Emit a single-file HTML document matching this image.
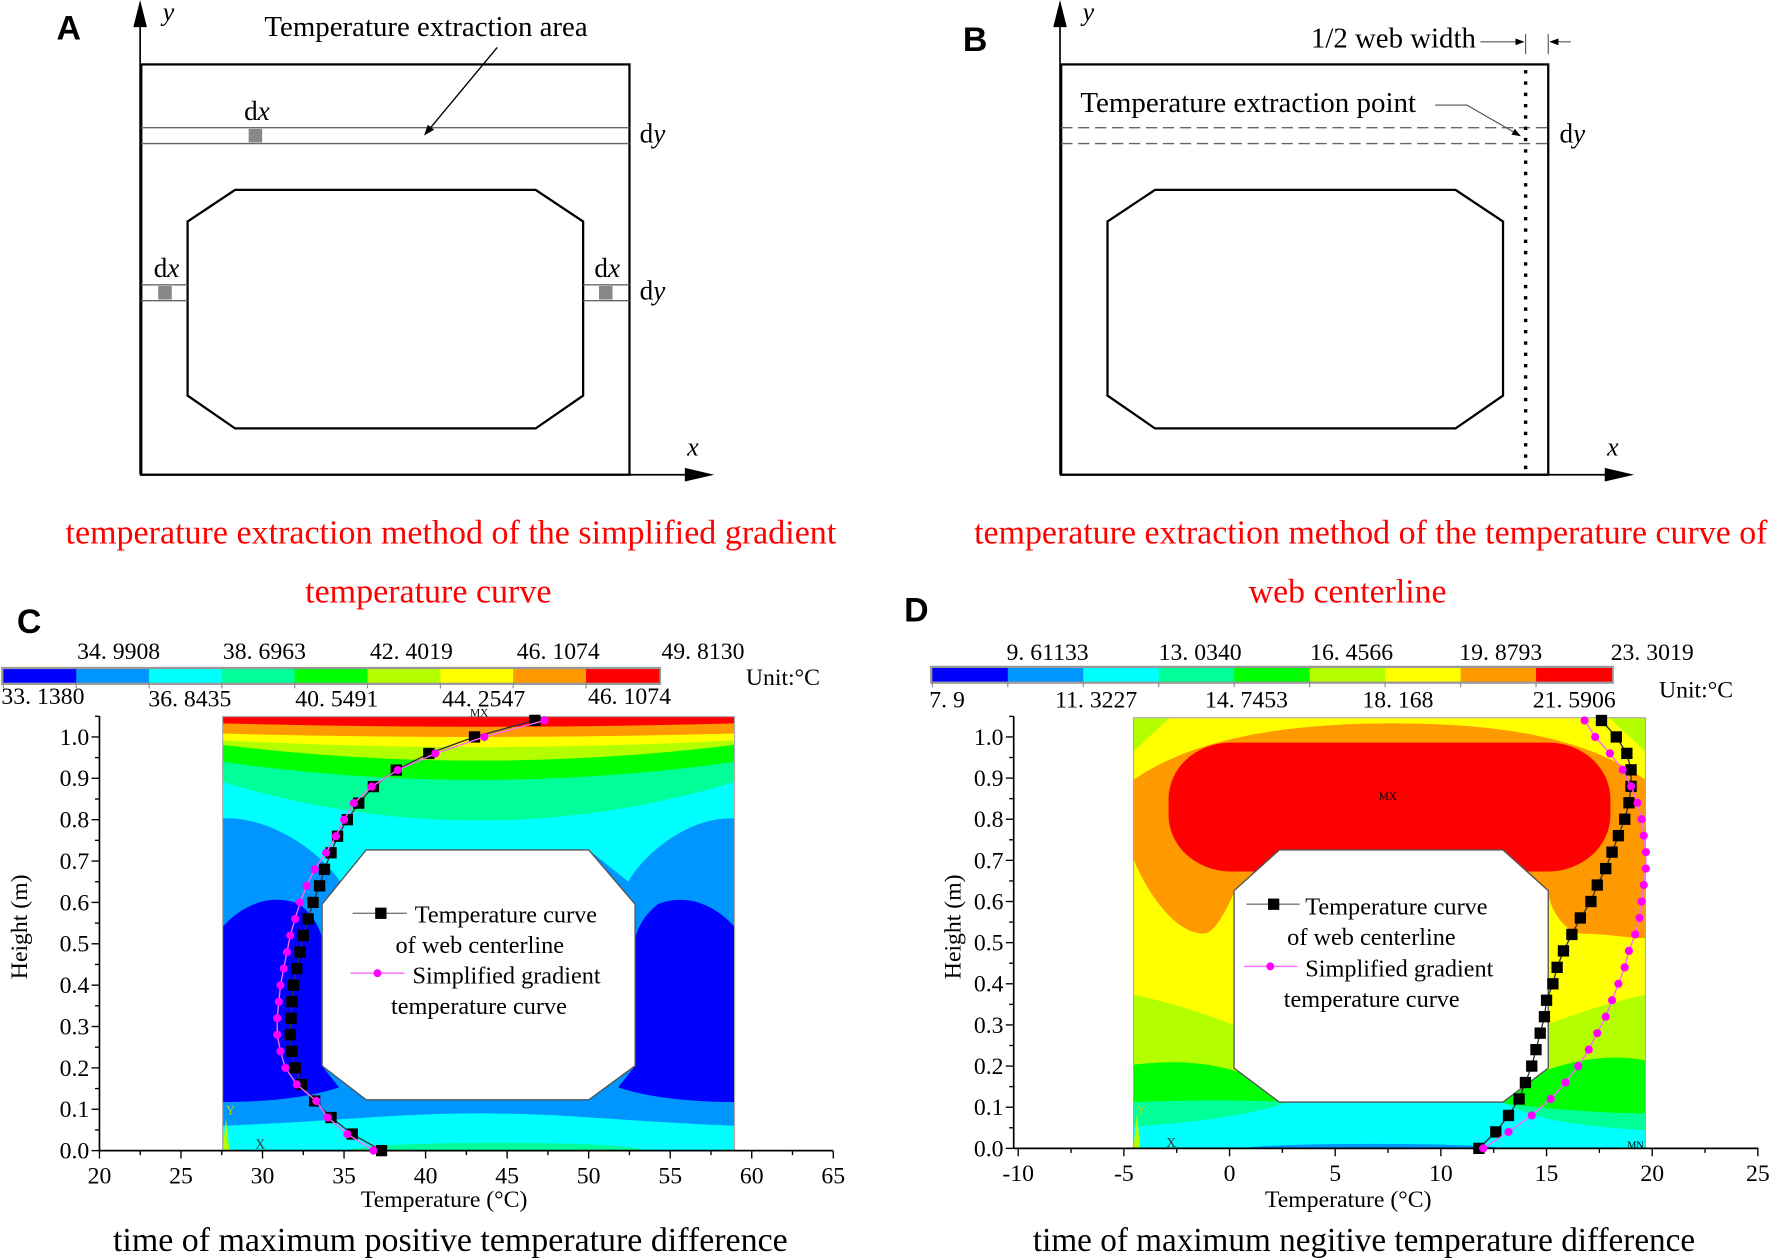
<!DOCTYPE html>
<html><head><meta charset="utf-8"><style>
html,body{margin:0;padding:0;background:#fff;}
svg{display:block;}
text{font-family:"Liberation Serif",serif;}
.sans{font-family:"Liberation Sans",sans-serif;font-weight:bold;}
</style></head><body>
<svg id="s" width="1772" height="1258" viewBox="0 0 1568 1113" preserveAspectRatio="none" xmlns="http://www.w3.org/2000/svg">
<defs>
<marker id="ah2" markerWidth="8" markerHeight="6" refX="7" refY="3" orient="auto"><path d="M0,0 L8,3 L0,6 Z" fill="#000"/></marker>
</defs>
<rect width="1568" height="1113" fill="#fff"/>

<!-- Panel A -->
<text x="50" y="35" class="sans" font-size="30">A</text>
<line x1="124" y1="420" x2="124" y2="22" stroke="#000" stroke-width="1.5"/>
<path d="M118,24 L124,0 L130,24 Z" fill="#000"/>
<line x1="124" y1="420" x2="608" y2="420" stroke="#000" stroke-width="1.5"/>
<path d="M606,414 L632,420 L606,426 Z" fill="#000"/>
<text x="144" y="18" font-size="23" font-style="italic">y</text>
<text x="608" y="403" font-size="23" font-style="italic">x</text>
<rect x="125" y="57" width="432" height="363" fill="none" stroke="#000" stroke-width="2"/>
<line x1="125" y1="113" x2="557" y2="113" stroke="#666" stroke-width="1.2"/>
<line x1="125" y1="127" x2="557" y2="127" stroke="#666" stroke-width="1.2"/>
<rect x="220" y="114" width="12" height="12" fill="#888"/>
<polygon points="208,168 474,168 516,196 516,350 474,379 208,379 166,350 166,196" fill="none" stroke="#000" stroke-width="2"/>
<line x1="125" y1="252" x2="166" y2="252" stroke="#666" stroke-width="1.2"/>
<line x1="125" y1="266" x2="166" y2="266" stroke="#666" stroke-width="1.2"/>
<line x1="516" y1="252" x2="557" y2="252" stroke="#666" stroke-width="1.2"/>
<line x1="516" y1="266" x2="557" y2="266" stroke="#666" stroke-width="1.2"/>
<rect x="140" y="253" width="12" height="12" fill="#888"/>
<rect x="530" y="253" width="12" height="12" fill="#888"/>
<text x="234" y="32" font-size="25" textLength="286" lengthAdjust="spacingAndGlyphs">Temperature extraction area</text>
<line x1="440" y1="42" x2="376" y2="119" stroke="#000" stroke-width="1.2" marker-end="url(#ah2)"/>
<text x="216" y="106" font-size="24">d<tspan font-style="italic">x</tspan></text>
<text x="566" y="126" font-size="24">d<tspan font-style="italic">y</tspan></text>
<text x="136" y="245" font-size="24">d<tspan font-style="italic">x</tspan></text>
<text x="526" y="245" font-size="24">d<tspan font-style="italic">x</tspan></text>
<text x="566" y="265" font-size="24">d<tspan font-style="italic">y</tspan></text>

<!-- Panel B -->
<text x="852" y="45" class="sans" font-size="30">B</text>
<line x1="938" y1="420" x2="938" y2="22" stroke="#000" stroke-width="1.5"/>
<path d="M932,24 L938,0 L944,24 Z" fill="#000"/>
<line x1="938" y1="420" x2="1422" y2="420" stroke="#000" stroke-width="1.5"/>
<path d="M1420,414 L1446,420 L1420,426 Z" fill="#000"/>
<text x="958" y="18" font-size="23" font-style="italic">y</text>
<text x="1422" y="403" font-size="23" font-style="italic">x</text>
<rect x="939" y="57" width="431" height="363" fill="none" stroke="#000" stroke-width="2"/>
<line x1="939" y1="113" x2="1370" y2="113" stroke="#666" stroke-width="1.2" stroke-dasharray="10,5"/>
<line x1="939" y1="127" x2="1370" y2="127" stroke="#666" stroke-width="1.2" stroke-dasharray="10,5"/>
<polygon points="1022,168 1288,168 1330,196 1330,350 1288,379 1022,379 980,350 980,196" fill="none" stroke="#000" stroke-width="2"/>
<line x1="1350" y1="62" x2="1350" y2="415" stroke="#000" stroke-width="3" stroke-dasharray="3,7"/>
<text x="1160" y="42" font-size="25" textLength="146" lengthAdjust="spacingAndGlyphs">1/2 web width</text>
<line x1="1310" y1="37" x2="1348" y2="37" stroke="#555" stroke-width="1" marker-end="url(#ah2)"/>
<line x1="1390" y1="37" x2="1372" y2="37" stroke="#555" stroke-width="1" marker-end="url(#ah2)"/>
<line x1="1350" y1="30" x2="1350" y2="48" stroke="#555" stroke-width="1"/>
<line x1="1370" y1="30" x2="1370" y2="48" stroke="#555" stroke-width="1"/>
<text x="956" y="99" font-size="25" textLength="297" lengthAdjust="spacingAndGlyphs">Temperature extraction point</text>
<path d="M1270,93 L1298,93 L1345,120" fill="none" stroke="#555" stroke-width="1" marker-end="url(#ah2)"/>
<text x="1380" y="126" font-size="24">d<tspan font-style="italic">y</tspan></text>

<!-- red captions -->
<g fill="#ff0000" font-size="30">
<text x="58" y="481" textLength="682" lengthAdjust="spacingAndGlyphs">temperature extraction method of the simplified gradient</text>
<text x="270" y="533" textLength="218" lengthAdjust="spacingAndGlyphs">temperature curve</text>
<text x="862" y="481" textLength="702" lengthAdjust="spacingAndGlyphs">temperature extraction method of the temperature curve of</text>
<text x="1105" y="533" textLength="175" lengthAdjust="spacingAndGlyphs">web centerline</text>
</g>

<!-- Panel C -->
<text x="15" y="560" class="sans" font-size="30">C</text>
<g id="cbC"></g>
<g font-size="21" text-anchor="middle">
<text x="105" y="583">34. 9908</text><text x="234" y="583">38. 6963</text><text x="364" y="583">42. 4019</text><text x="494" y="583">46. 1074</text><text x="622" y="583">49. 8130</text>
<text x="38" y="623">33. 1380</text><text x="168" y="625">36. 8435</text><text x="298" y="625">40. 5491</text><text x="428" y="625">44. 2547</text><text x="557" y="623">46. 1074</text>
</g>
<text x="660" y="606" font-size="21">Unit:°C</text>

<svg x="197" y="634" width="453" height="384" viewBox="197 634 453 384" overflow="hidden">
<rect x="197" y="634" width="453" height="384" fill="#0096ff"/>
<path d="M197,820 C215,800 240,790 265,800 C275,808 282,818 285,830 L285,943 L300,962 C270,972 230,975 197,975 Z" fill="#0000ff"/>
<path d="M650,820 C632,800 607,790 582,800 C572,808 565,818 562,830 L562,943 L547,962 C577,972 617,975 650,975 Z" fill="#0000ff"/>
<path d="M197,634 H650 V724 C610,722 570,755 556,780 L521,752 L324,752 L301,780 C285,755 240,722 197,724 Z" fill="#00ffff"/>
<path d="M197,996 C300,992 350,985 423,985 C500,985 550,992 650,996 V1018 H197 Z" fill="#00ffff"/>
<ellipse cx="440" cy="1018" rx="130" ry="7" fill="#00ff99"/>
<path d="M197,634 H650 V692 Q423,760 197,692 Z" fill="#00ff99"/>
<path d="M197,634 H650 V674 Q423,706 197,674 Z" fill="#00ff00"/>
<path d="M197,634 H650 V659 Q423,687 197,659 Z" fill="#b3ff00"/>
<path d="M197,634 H650 V655 Q423,667 197,655 Z" fill="#ffff00"/>
<path d="M197,634 H650 V649 Q423,655 197,649 Z" fill="#ff9900"/>
<path d="M197,634 H650 V640 Q423,646 197,640 Z" fill="#ff0000"/>
<polygon points="197,1018 200,990 203,1018" fill="#b3ff00"/>
</svg>
<polygon points="324,752 521,752 562,800 562,943 521,973 324,973 285,943 285,800" fill="#fff" stroke="#555" stroke-width="1.2"/>
<rect x="197" y="634" width="453" height="384" fill="none" stroke="#aaa" stroke-width="1"/>
<text x="416" y="634" font-size="10" font-family="Liberation Mono">MX</text>
<text x="200" y="986" font-size="11" fill="#cccc00">Y</text>
<text x="226" y="1016" font-size="12" fill="#333">X</text>
<g id="axC"></g>
<text transform="translate(24,820) rotate(-90)" font-size="21" text-anchor="middle">Height (m)</text>
<text x="393" y="1068" font-size="21" text-anchor="middle">Temperature (°C)</text>
<g id="serC"></g>
<!-- legend C -->
<line x1="312" y1="808" x2="360" y2="808" stroke="#777" stroke-width="1.2"/>
<rect x="332" y="803" width="10" height="10" fill="#000"/>
<text x="367" y="816" font-size="21.5">Temperature curve</text>
<text x="350" y="843" font-size="21.5">of web centerline</text>
<line x1="310" y1="861" x2="358" y2="861" stroke="#ff66ff" stroke-width="1.2"/>
<circle cx="334" cy="861" r="3.5" fill="#ff00ff"/>
<text x="365" y="870" font-size="21.5">Simplified gradient</text>
<text x="346" y="897" font-size="21.5">temperature curve</text>
<text x="100" y="1107" font-size="30" textLength="597" lengthAdjust="spacingAndGlyphs">time of maximum positive temperature difference</text>

<!-- Panel D -->
<text x="800" y="550" class="sans" font-size="30">D</text>
<g id="cbD"></g>
<g font-size="21" text-anchor="middle">
<text x="927" y="584">9. 61133</text><text x="1062" y="584">13. 0340</text><text x="1196" y="584">16. 4566</text><text x="1328" y="584">19. 8793</text><text x="1462" y="584">23. 3019</text>
<text x="838" y="626">7. 9</text><text x="970" y="626">11. 3227</text><text x="1103" y="626">14. 7453</text><text x="1237" y="626">18. 168</text><text x="1393" y="626">21. 5906</text>
</g>
<text x="1468" y="617" font-size="21">Unit:°C</text>

<svg x="1003" y="635" width="453" height="381" viewBox="1003 635 453 381" overflow="hidden">
<rect x="1003" y="635" width="453" height="381" fill="#ffff00"/>
<path d="M1003,1016 V880 Q1050,890 1100,910 L1360,910 Q1410,890 1456,880 V1016 Z" fill="#b3ff00"/>
<path d="M1003,1016 V942 Q1060,935 1100,950 L1360,950 Q1410,930 1456,938 V1016 Z" fill="#00ff00"/>
<path d="M1003,1016 V975 Q1080,972 1140,975 L1320,975 Q1400,985 1456,985 V1016 Z" fill="#00ff99"/>
<path d="M1003,1016 V997 Q1100,990 1140,975 L1330,975 Q1360,995 1456,1000 V1016 Z" fill="#00ffff"/>
<ellipse cx="1215" cy="1017" rx="120" ry="5" fill="#0096ff"/>
<polygon points="1003,635 1035,635 1003,665" fill="#b3ff00"/>
<polygon points="1456,635 1424,635 1456,665" fill="#b3ff00"/>
<path d="M1003,690 C1060,650 1150,640 1230,640 C1320,640 1400,650 1456,690 V830 C1440,830 1420,826 1400,826 C1385,826 1372,805 1370,790 L1092,790 C1085,805 1075,826 1065,826 C1040,826 1015,790 1003,760 Z" fill="#ff9900"/>
<rect x="1034" y="657" width="391" height="114" rx="55" ry="50" fill="#ff0000"/>
<polygon points="1003,1016 1006,985 1009,1016" fill="#b3ff00"/>
</svg>
<polygon points="1132,752 1330,752 1370,788 1370,945 1330,975 1132,975 1092,945 1092,788" fill="#fff" stroke="#555" stroke-width="1.2"/>
<rect x="1003" y="635" width="453" height="381" fill="none" stroke="#aaa" stroke-width="1"/>
<text x="1220" y="708" font-size="10" font-family="Liberation Mono">MX</text>
<text x="1440" y="1016" font-size="9" font-family="Liberation Mono">MN</text>
<text x="1006" y="986" font-size="11" fill="#cccc00">Y</text>
<text x="1032" y="1015" font-size="12" fill="#333">X</text>
<g id="axD"></g>
<text transform="translate(850,820) rotate(-90)" font-size="21" text-anchor="middle">Height (m)</text>
<text x="1193" y="1068" font-size="21" text-anchor="middle">Temperature (°C)</text>
<g id="serD"></g>
<line x1="1103" y1="800" x2="1150" y2="800" stroke="#777" stroke-width="1.2"/>
<rect x="1122" y="795" width="10" height="10" fill="#000"/>
<text x="1155" y="809" font-size="21.5">Temperature curve</text>
<text x="1139" y="836" font-size="21.5">of web centerline</text>
<line x1="1101" y1="855" x2="1148" y2="855" stroke="#ff66ff" stroke-width="1.2"/>
<circle cx="1124" cy="855" r="3.5" fill="#ff00ff"/>
<text x="1155" y="864" font-size="21.5">Simplified gradient</text>
<text x="1136" y="891" font-size="21.5">temperature curve</text>
<text x="914" y="1107" font-size="30" textLength="586" lengthAdjust="spacingAndGlyphs">time of maximum negitive temperature difference</text>
</svg>
<script>
var NS="http://www.w3.org/2000/svg";
function el(p,t,a){var e=document.createElementNS(NS,t);for(var k in a)e.setAttribute(k,a[k]);document.getElementById(p).appendChild(e);return e;}
var cols=["#0000ff","#0096ff","#00ffff","#00ff99","#00ff00","#b3ff00","#ffff00","#ff9900","#ff0000"];
function cbar(id,x0,x1,y,h){el(id,"rect",{x:x0-2,y:y-2,width:x1-x0+4,height:h+4,fill:"#999"});var w=(x1-x0)/9;for(var i=0;i<9;i++){el(id,"rect",{x:x0+i*w,y:y,width:w+0.5,height:h,fill:cols[i]});el(id,"line",{x1:x0+i*w,y1:y+h,x2:x0+i*w,y2:y+h+5,stroke:"#888","stroke-width":1});}}
cbar("cbC",3,583,592,12);cbar("cbD",825,1426,591,12);
function axes(id,ax,y0,y1,ppu,xmin,xmax,x0px,xppu,xend,step){
 el(id,"line",{x1:ax,y1:y0,x2:ax,y2:y0-1.05*ppu*10,stroke:"#000","stroke-width":1.5});
 for(var i=0;i<=21;i++){var y=y0-i*ppu*0.5;var maj=i%2==0;el(id,"line",{x1:ax-(maj?7:4),y1:y,x2:ax,y2:y,stroke:"#000","stroke-width":1.2});
  if(maj){var t=el(id,"text",{x:ax-9,y:y+7,"font-size":21,"text-anchor":"end"});t.textContent=(i/20).toFixed(1);}}
 el(id,"line",{x1:ax,y1:y0,x2:xend,y2:y0,stroke:"#000","stroke-width":1.5});
 for(var v=xmin;v<=xmax+0.01;v+=step/2){var x=x0px+(v-xmin)*xppu;var maj=Math.abs(v/step-Math.round(v/step))<0.01;
  el(id,"line",{x1:x,y1:y0,x2:x,y2:y0+(maj?7:4),stroke:"#000","stroke-width":1.2});
  if(maj){var t=el(id,"text",{x:x,y:y0+29,"font-size":21,"text-anchor":"middle"});t.textContent=String(Math.round(v));}}
}
axes("axC",88,1018,0,36.6,20,65,88,14.43,737,5);
axes("axD",897,1016,0,36.4,-10,25,901,18.7,1556,5);
function series(id,T,mx,sx,my,sy,sq,col,lc){var pts=[];for(var i=0;i<T.length;i++){pts.push([mx+T[i]*sx,my-i*0.04*sy]);}
 el(id,"polyline",{points:pts.map(function(p){return p.join(",")}).join(" "),fill:"none",stroke:lc,"stroke-width":1.2});
 pts.forEach(function(p){if(sq)el(id,"rect",{x:p[0]-5,y:p[1]-5,width:10,height:10,fill:col});else el(id,"circle",{cx:p[0],cy:p[1],r:3.6,fill:col});});}
var cb=[37.3,35.5,34.2,33.2,32.4,32.0,31.8,31.7,31.75,31.8,31.9,32.1,32.3,32.5,32.8,33.1,33.5,33.8,34.2,34.6,35.2,35.9,36.8,38.2,40.2,43.0,46.7];
var cm=[36.8,35.2,34.0,33.3,32.1,31.4,31.1,30.9,30.9,31.0,31.1,31.3,31.5,31.7,32.0,32.3,32.7,33.2,33.9,34.5,35.0,35.6,36.7,38.3,40.6,43.6,47.3];
var db=[11.8,12.6,13.2,13.7,14.0,14.3,14.5,14.7,14.9,15.0,15.3,15.5,15.8,16.2,16.6,17.1,17.4,17.8,18.1,18.4,18.7,18.9,19.0,19.0,18.8,18.3,17.6];
var dm=[12.0,13.2,14.3,15.2,15.9,16.5,17.0,17.4,17.8,18.1,18.4,18.7,18.9,19.2,19.4,19.5,19.6,19.7,19.7,19.6,19.5,19.3,19.0,18.6,18.0,17.3,16.8];
var cx0=88-20*14.43;
series("serC",cb,cx0,14.43,1018,366,true,"#000","#333");
series("serC",cm,cx0,14.43,1018,366,false,"#ff00ff","#ff66ff");
series("serD",db,901+10*18.7,18.7,1016,364,true,"#000","#333");
series("serD",dm,901+10*18.7,18.7,1016,364,false,"#ff00ff","#ff66ff");
</script>
</body></html>
